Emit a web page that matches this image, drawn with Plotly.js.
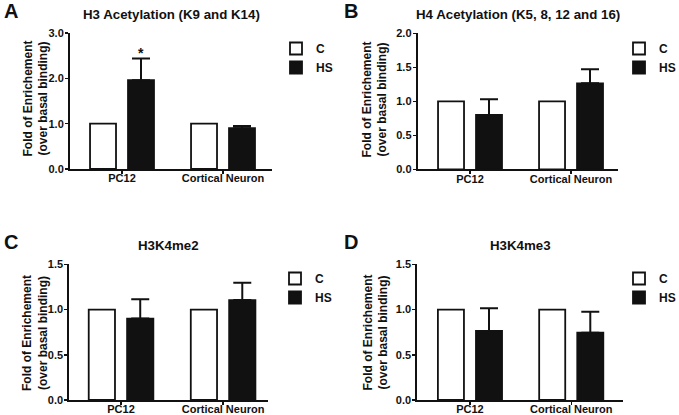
<!DOCTYPE html>
<html>
<head>
<meta charset="utf-8">
<script src="https://cdn.plot.ly/plotly-3.0.1.min.js"></script>
<style>html,body{margin:0;padding:0;background:#fff;overflow:hidden;}#wrap{width:679px;height:415px;overflow:hidden;}#chart{width:692px;height:415px;}</style>
</head>
<body>
<div id="wrap"><div id="chart"></div></div>
<script>
const categories = ['PC12', 'Cortical Neuron'];
const seriesNames = ['C', 'HS'];
const panelTitles = ['H3 Acetylation (K9 and K14)', 'H4 Acetylation (K5, 8, 12 and 16)', 'H3K4me2', 'H3K4me3'];
const panelLetters = ['A', 'B', 'C', 'D'];
const yTitle = 'Fold of Enrichement<br>(over basal binding)';

const aC = [1.0, 1.0];
const aHS = [1.96, 0.90];
const aHSerr = [0.48, 0.05];

const bC = [1.0, 1.0];
const bHS = [0.80, 1.265];
const bHSerr = [0.23, 0.205];

const cC = [1.0, 1.0];
const cHS = [0.90, 1.105];
const cHSerr = [0.215, 0.19];

const dC = [1.0, 1.0];
const dHS = [0.763, 0.744];
const dHSerr = [0.25, 0.232];

const yTicksA = [0, 1, 2, 3];
const yTicksB = [0, 0.5, 1.0, 1.5, 2.0];
const yTicksCD = [0, 0.5, 1.0, 1.5];

// drawing canvas is a little wider than the 679px view so the right-hand legends are not pushed inward
const W = 692, H = 415;
const FONT = 'Liberation Sans, Arial, sans-serif';

const panels = [
  {C: aC, HS: aHS, err: aHSerr, px: [70, 272], py: [33, 169], yr: [0, 3], ticks: yTicksA, xr: [-0.515, 1.485], leg: [276, 34], ytx: 35, yty: 98.5},
  {C: bC, HS: bHS, err: bHSerr, px: [417.7, 618], py: [33.3, 169.3], yr: [0, 2], ticks: yTicksB, xr: [-0.518, 1.465], leg: [619, 34], ytx: 375, yty: 99.5},
  {C: cC, HS: cHS, err: cHSerr, px: [69.3, 268], py: [264.3, 400], yr: [0, 1.5], ticks: yTicksCD, xr: [-0.507, 1.44], leg: [275, 264], ytx: 35, yty: 333},
  {C: dC, HS: dHS, err: dHSerr, px: [417.3, 622.7], py: [264.3, 400], yr: [0, 1.5], ticks: yTicksCD, xr: [-0.52, 1.508], leg: [619, 264], ytx: 375.5, yty: 333}
];

const data = [];
const layout = {
  width: W, height: H,
  margin: {l: 0, r: 0, t: 0, b: 0},
  paper_bgcolor: '#fff', plot_bgcolor: '#fff',
  barmode: 'group', bargap: 0.248, bargroupgap: 0.316,
  font: {family: FONT, color: '#111'},
  annotations: [], showlegend: true
};

panels.forEach((p, i) => {
  const n = i === 0 ? '' : String(i + 1);
  const xa = 'x' + n, ya = 'y' + n;
  const legName = 'legend' + n;
  data.push({
    type: 'bar', x: categories, y: p.C, name: seriesNames[0], xaxis: xa, yaxis: ya,
    marker: {color: '#fff', line: {color: '#111', width: 1.8}}, legend: legName, showlegend: true
  });
  data.push({
    type: 'bar', x: categories, y: p.HS, name: seriesNames[1], xaxis: xa, yaxis: ya,
    marker: {color: '#111', line: {color: '#111', width: 1.8}}, legend: legName, showlegend: true,
    error_y: {type: 'data', array: p.err, arrayminus: p.err.map(() => 0), symmetric: false, color: '#111', thickness: 2, width: 9}
  });
  const xkey = 'xaxis' + n, ykey = 'yaxis' + n;
  layout[xkey] = {
    domain: [p.px[0] / W, p.px[1] / W], anchor: ya, range: p.xr, type: 'category',
    showline: true, linecolor: '#111', linewidth: 2, ticks: 'outside', ticklen: 3, tickwidth: 1.5, tickcolor: '#111',
    showgrid: false, zeroline: false, fixedrange: true, ticklabelstandoff: -5,
    tickfont: {family: FONT, size: 11, color: '#111', weight: 'bold'}
  };
  layout[ykey] = {
    domain: [1 - p.py[1] / H, 1 - p.py[0] / H], anchor: xa, range: p.yr,
    tickvals: p.ticks, tickformat: '.1f',
    showline: true, linecolor: '#111', linewidth: 2, ticks: 'outside', ticklen: 3, tickwidth: 1.5, tickcolor: '#111',
    showgrid: false, zeroline: false, fixedrange: true, ticklabelstandoff: -1,
    tickfont: {family: FONT, size: 11, color: '#111', weight: 'bold'}
  };
  layout[legName] = {
    x: p.leg[0] / W, y: 1 - p.leg[1] / H, xanchor: 'left', yanchor: 'top',
    font: {family: FONT, size: 12, color: '#111', weight: 'bold'}, bgcolor: 'rgba(0,0,0,0)',
    tracegroupgap: 0, itemwidth: 30
  };
  // y-axis title
  layout.annotations.push({
    xref: 'paper', yref: 'paper', x: p.ytx / W, y: 1 - p.yty / H, textangle: -90,
    text: '<b>' + yTitle + '</b>', showarrow: false, xanchor: 'center', yanchor: 'middle',
    font: {family: FONT, size: 12, color: '#111'}
  });
  // panel title
  layout.annotations.push({
    xref: 'paper', yref: 'paper', x: ((p.px[0] + p.px[1]) / 2) / W, y: 1 - (p.py[0] - 19) / H,
    text: '<b>' + panelTitles[i] + '</b>', showarrow: false, xanchor: 'center', yanchor: 'middle',
    font: {family: FONT, size: 13.3, color: '#111'}
  });
  // panel letter
  layout.annotations.push({
    xref: 'paper', yref: 'paper', x: (i % 2 === 0 ? 2 : 342) / W, y: 1 - (p.py[0] - 22) / H,
    text: '<b>' + panelLetters[i] + '</b>', showarrow: false, xanchor: 'left', yanchor: 'middle',
    font: {family: FONT, size: 20, color: '#111'}
  });
});

// significance asterisk in panel A, above the PC12 HS error bar
layout.annotations.push({
  xref: 'x', yref: 'y', x: categories[0], y: aHS[0] + aHSerr[0], xshift: 19, yshift: -5,
  text: '<b>*</b>', showarrow: false, yanchor: 'bottom', font: {family: FONT, size: 14, color: '#111'}
});

Plotly.newPlot('chart', data, layout, {staticPlot: true, displayModeBar: false});
</script>
</body>
</html>
